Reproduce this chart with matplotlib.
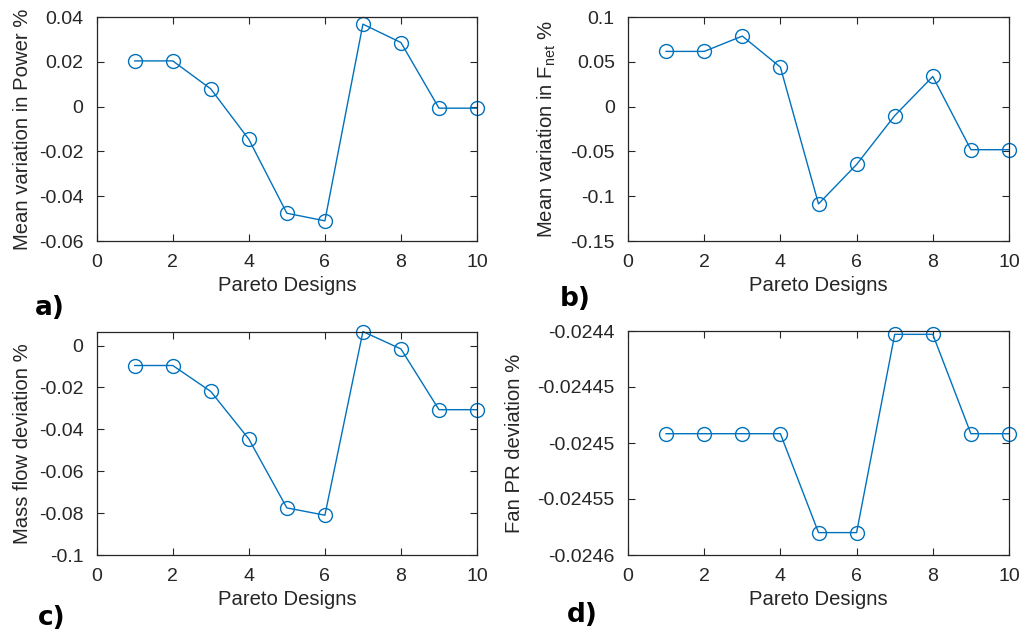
import matplotlib
matplotlib.use("Agg")
import matplotlib.pyplot as plt

plt.rcParams['font.family'] = ['Liberation Sans', 'DejaVu Sans']
plt.rcParams['axes.unicode_minus'] = False
plt.rcParams['mathtext.default'] = 'regular'

designs = [1, 2, 3, 4, 5, 6, 7, 8, 9, 10]

power_var = [0.0204, 0.0204, 0.0079, -0.0146, -0.0476, -0.0510, 0.0368, 0.0286, -0.0007, -0.0007]
fnet_var = [0.0616, 0.0616, 0.0787, 0.0440, -0.1086, -0.0646, -0.0101, 0.0336, -0.0481, -0.0481]
massflow_dev = [-0.0095, -0.0095, -0.0219, -0.0446, -0.0775, -0.0810, 0.0067, -0.0016, -0.0306, -0.0306]
fanpr_dev = [-0.0244917, -0.0244917, -0.0244917, -0.0244917, -0.02458, -0.02458,
             -0.024403, -0.024403, -0.0244917, -0.0244917]

x_ticks = [0, 2, 4, 6, 8, 10]
power_ticks = [0.04, 0.02, 0, -0.02, -0.04, -0.06]
power_labels = ['0.04', '0.02', '0', '-0.02', '-0.04', '-0.06']
fnet_ticks = [0.1, 0.05, 0, -0.05, -0.1, -0.15]
fnet_labels = ['0.1', '0.05', '0', '-0.05', '-0.1', '-0.15']
mass_ticks = [0, -0.02, -0.04, -0.06, -0.08, -0.1]
mass_labels = ['0', '-0.02', '-0.04', '-0.06', '-0.08', '-0.1']
fanpr_ticks = [-0.0244, -0.02445, -0.0245, -0.02455, -0.0246]
fanpr_labels = ['-0.0244', '-0.02445', '-0.0245', '-0.02455', '-0.0246']

LINE = '#0072BD'
FRAME = '#262626'
W, H = 1021, 633

fig = plt.figure(figsize=(W / 100, H / 100), dpi=100)


def px_axes(left, top, right, bottom):
    return fig.add_axes([left / W, 1 - bottom / H, (right - left) / W, (bottom - top) / H])


panels = [
    (px_axes(96.7, 17, 477, 241), power_var, (-0.06, 0.04), power_ticks, power_labels,
     'Mean variation in Power %', 5, 'a)', (50, 308)),
    (px_axes(628, 17, 1009, 241), fnet_var, (-0.15, 0.1), fnet_ticks, fnet_labels,
     'Mean variation in F$_{net}$ %', 9, 'b)', (575, 299)),
    (px_axes(96.7, 332, 477, 555), massflow_dev, (-0.1, 0.0065), mass_ticks, mass_labels,
     'Mass flow deviation %', 5, 'c)', (52, 618)),
    (px_axes(628, 331, 1009, 555), fanpr_dev, (-0.0246, -0.0244), fanpr_ticks, fanpr_labels,
     'Fan PR deviation %', 10, 'd)', (582, 615)),
]

for ax, vals, ylim, yt, ytl, ylab, lpad, tag, tagpos in panels:
    ax.plot(designs, vals, color=LINE, lw=1.0, marker='o', markersize=10,
            markerfacecolor='none', markeredgecolor=LINE, markeredgewidth=1.0,
            clip_on=False)
    ax.set_xlim(0, 10)
    ax.set_ylim(*ylim)
    ax.set_xticks(x_ticks)
    ax.set_xticklabels([str(t) for t in x_ticks])
    ax.set_yticks(yt)
    ax.set_yticklabels(ytl)
    ax.tick_params(direction='in', length=5, width=0.8, color=FRAME,
                   labelsize=14, labelcolor=FRAME, top=True, right=True)
    ax.tick_params(axis='x', pad=9.5)
    ax.tick_params(axis='y', pad=9.5)
    for s in ax.spines.values():
        s.set_color(FRAME)
        s.set_linewidth(0.9)
    ax.set_xlabel('Pareto Designs', fontsize=14.6, color=FRAME, labelpad=3.5)
    ax.set_ylabel(ylab, fontsize=14.6, color=FRAME, labelpad=lpad)
    fig.text(tagpos[0] / W, 1 - tagpos[1] / H, tag, ha='center', va='center',
             fontsize=19, fontweight='bold', family='DejaVu Sans', color='black')

fig.savefig('out.png', dpi=100)
